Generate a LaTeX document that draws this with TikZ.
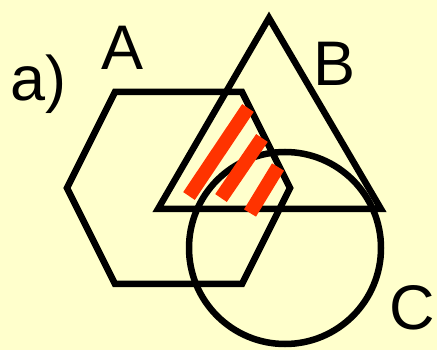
\documentclass[tikz,border=0pt]{standalone}
\usepackage{fontspec}
\setmainfont{Liberation Sans}
\definecolor{paper}{HTML}{FFFFCC}
\definecolor{stripered}{HTML}{FF3300}
\tikzset{
  outline/.style={line width=6.5pt},
  setlabel/.style={inner sep=0pt, font=\fontsize{63}{63}\selectfont}}

\begin{document}
\begin{tikzpicture}[x=1pt,y=-1pt]
    \fill[paper] (0,0) rectangle (437,350);
    \useasboundingbox (0,0) rectangle (437,350);
    % ---- set A: hexagon ----
    \draw[outline] (115,92) -- (242,92) -- (290,188) -- (242,284)
                   -- (115,284) -- (67,188) -- cycle;
    % ---- set B: triangle ----
    \draw[outline] (269,18) -- (381,209) -- (158,209) -- cycle;
    % ---- set C: circle ----
    \draw[outline] (285,248) circle (96pt);
    % ---- hatching ----
    \foreach \xa/\ya/\xb/\yb in {189/196/248/108,221/198/262/138,250/213/278/167}{
      \draw[stripered, line width=14pt] (\xa,\ya) -- (\xb,\yb);}
    % ---- labels ----
    \node[setlabel] (case) at (38.5,84.5) {a)};
    \node[setlabel] (setA) at (123,47.5) {A};
    \node[setlabel] (setB) at (334.5,63.5) {B};
    \node[setlabel] (setC) at (412,307.5) {C};
\end{tikzpicture}
\end{document}
